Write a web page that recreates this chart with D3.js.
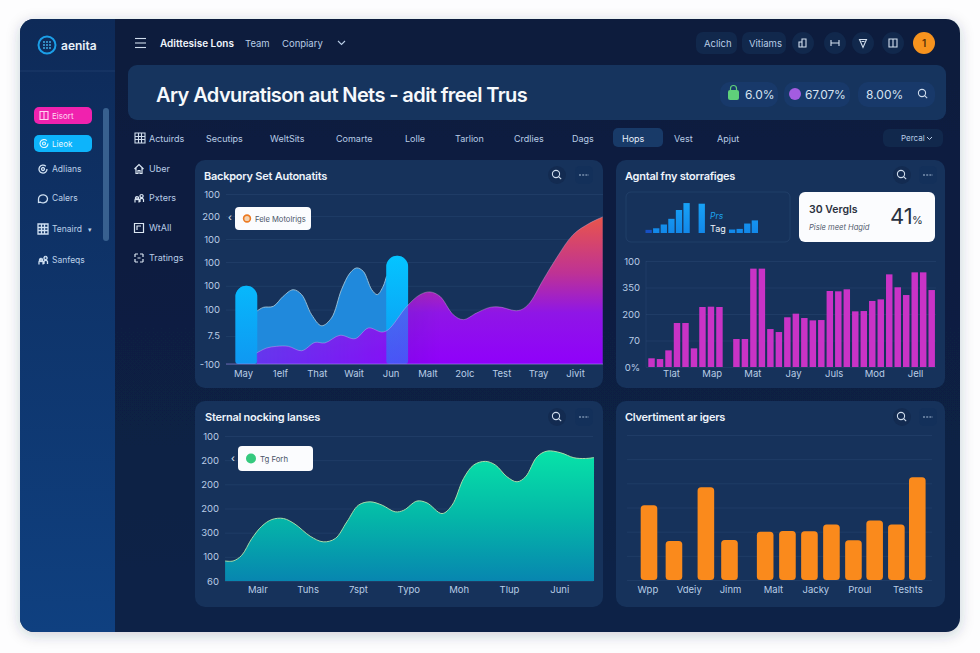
<!DOCTYPE html>
<html>
<head>
<meta charset="utf-8">
<title>Dashboard</title>
<script src="https://cdn.jsdelivr.net/npm/d3@7"></script>
<style>
  html, body { margin: 0; padding: 0; background: #fdfdfe; }
  svg { display: block; }
  text { font-family: Inter, "Noto Sans", sans-serif; }
</style>
</head>
<body>
<svg id="chart" width="980" height="653"></svg>
<script>
// chart 1: layered areas + two capsules
const areaMonthLabels = ['May', '1elf', 'That', 'Wait', 'Jun', 'Malt', '2olc', 'Test', 'Tray', 'Jivit'];
const areaTickLabels = ['-100', '7.5', '100', '100', '100', '100', '200', '100'];
const areaTickValues = [0, 16.5, 32, 46, 60, 73.5, 87, 100];
const blueMonths = [0.37, 0.55, 0.82, 1.09, 1.36, 1.59, 1.86, 2.13, 2.40, 2.67, 2.90, 3.08, 3.26, 3.49, 3.64, 3.80, 3.89, 4.0, 4.45];
const blueValues = [31, 33.3, 33.9, 39.8, 43.7, 40.8, 29, 22.5, 27.1, 43.7, 53.5, 56.5, 54.5, 43.7, 40.8, 45.7, 51.6, 55, 55];
const purpleMonths = [0.37, 0.64, 0.91, 1.23, 1.59, 1.95, 2.22, 2.63, 3.04, 3.40, 3.76, 3.94, 4.44, 4.80, 5.07, 5.34, 5.70, 5.97, 6.33, 6.69, 6.96, 7.46, 7.73, 8.14, 8.50, 8.95, 9.40, 9.75];
const purpleValues = [6.5, 9.4, 10.4, 10.4, 7.8, 12.7, 12.4, 16.9, 14.9, 21.2, 18.8, 20.2, 33.9, 40.8, 42.4, 39.8, 29, 26.1, 30, 33.3, 33.5, 31.4, 34.9, 49.6, 62.4, 76.1, 82.9, 86.5];
const capsuleMonths = [0.09, 4.18];
const capsuleValues = [46, 63.7];

// chart 2: mini bars + magenta bars
const miniValues = [10, 15, 27, 45, 73, 95, 0, 93, 0, 0, 0, 11, 13, 30, 40];
const magentaValues = [8.2, 7.5, 15.7, 41.5, 41.5, 17.6, 56.6, 56.9, 56.6, null, 26.4, 26.4, 92.8, 92.8, 35.8, 33, 46.9, 50.3, 46.2, 44, 44.3, 71.7, 71.4, 73.3, 52.5, 52.8, 62.3, 63.8, 87.4, 75.2, 67.9, 89.3, 89.3, 72.6];
const magentaTickLabels = ['0%', '70', '200', '350', '100'];
const magentaTickValues = [0, 25, 50, 75, 100];
const magentaMonthLabels = ['Tlat', 'Map', 'Mat', 'Jay', 'Juls', 'Mod', 'Jell'];

// chart 3: green area
const greenMonthLabels = ['Malr', 'Tuhs', '7spt', 'Typo', 'Moh', 'Tlup', 'Juni'];
const greenTickLabels = ['60', '100', '300', '200', '200', '200', '100'];
const greenMonths = [-0.64, -0.48, -0.31, -0.11, 0.09, 0.29, 0.52, 0.75, 1.05, 1.31, 1.55, 1.78, 2.01, 2.24, 2.48, 2.74, 2.91, 3.17, 3.37, 3.67, 3.87, 4.10, 4.30, 4.53, 4.73, 4.96, 5.16, 5.33, 5.56, 5.76, 6.03, 6.29, 6.52, 6.69];
const greenValues = [13.8, 13.8, 17.7, 29.2, 37.8, 42.4, 43.1, 39.2, 30.9, 27, 29.3, 40.8, 52.3, 54.6, 52.3, 47.7, 48.8, 55.1, 53.9, 46.5, 52.3, 70.8, 80, 82.5, 80, 71.9, 68.4, 71.9, 85.7, 89.6, 88.4, 85, 84.5, 85.1];

// chart 4: orange bars
const orangeDays = [0, 9.3, 21.2, 30, 43.3, 51.6, 59.8, 68, 76.2, 84.1, 92.2, 100];
const orangeValues = [51.5, 26.9, 63.9, 27.6, 33.3, 33.8, 33.6, 38.2, 27.4, 41.1, 38.2, 70.8];
const orangeLabels = ['Wpp', 'Vdeiy', 'Jinm', 'Malt', 'Jacky', 'Proul', 'Teshts'];
const orangeLabelDays = [-0.6, 14.8, 30.2, 46.2, 62, 78.4, 96.3];

// interface text
const topLinks = ['Team', 'Conpiary'];
const tabLabels = ['Actuirds', 'Secutips', 'WeltSits', 'Comarte', 'Lolle', 'Tarlion', 'Crdlies', 'Dags', 'Hops', 'Vest', 'Apjut'];
const subNavLabels = ['Uber', 'Pxters', 'WtAll', 'Tratings'];
const sideLabels = ['Adlians', 'Calers', 'Tenaird', 'Sanfeqs'];

const svg = d3.select('#chart');
const defs = svg.append('defs');

const cardFill = '#16325b';
const gridColor = 'rgba(130,175,225,0.085)';
const axisText = '#b9cde6';

function gradient(id, x1, y1, x2, y2, stops) {
  const g = defs.append('linearGradient').attr('id', id)
    .attr('gradientUnits', 'userSpaceOnUse')
    .attr('x1', x1).attr('y1', y1).attr('x2', x2).attr('y2', y2);
  stops.forEach(s => g.append('stop').attr('offset', s[0]).attr('stop-color', s[1]).attr('stop-opacity', s[2] === undefined ? 1 : s[2]));
}

function label(x, y, str, size, color, opts = {}) {
  return svg.append('text').attr('x', x).attr('y', y).text(str)
    .attr('font-size', size).attr('fill', color)
    .attr('font-weight', opts.weight || 400)
    .attr('font-style', opts.style || 'normal')
    .attr('letter-spacing', opts.spacing || 0)
    .attr('text-anchor', opts.anchor || 'start');
}

function box(x, y, w, h, r, fill) {
  return svg.append('rect').attr('x', x).attr('y', y).attr('width', w).attr('height', h).attr('rx', r).attr('fill', fill);
}

function searchIcon(cx, cy, color) {
  svg.append('circle').attr('cx', cx - 1).attr('cy', cy - 1).attr('r', 3.6).attr('fill', 'none').attr('stroke', color).attr('stroke-width', 1.1);
  svg.append('line').attr('x1', cx + 1.6).attr('y1', cy + 1.6).attr('x2', cx + 4.2).attr('y2', cy + 4.2).attr('stroke', color).attr('stroke-width', 1.1);
}

// rough glyphs, they are only a few pixels wide in the picture
const iconPaths = {
  doc: 'M-4-4h8v8h-8zM0-4v8',
  grid: 'M-5-5h10v10h-10zM-5-1.5h10M-5 1.5h10M-1.5-5v10M1.5-5v10',
  home: 'M-4.5 0L0-4.5L4.5 0M-3 -1V4.5H-1V1.5H1V4.5H3V-1',
  people: 'M-4 4.5V2a2 2 0 0 1 4 0V4.5M-2-1.5a1.6 1.6 0 1 0 0.1 0M1 4V1.5a2 2 0 0 1 3.5 0V4M2.5-3.5a1.6 1.6 0 1 0 0.1 0',
  frame: 'M-4.5-4.5h9v9h-9zM-2 2V-2H2',
  dash: 'M-4-4h3M1-4h3M-4 4h3M1 4h3M-4-4v3M4-4v3M-4 1v3M4 1v3M-1.5 0h3',
  pin: 'M-3.5-3.5h7L0 4.5ZM-1.5-1.5h3',
  build: 'M-4 4V-1h3V4M-1 4V-4h4V4M-4.5 4h8',
  bracket: 'M-4-3V3M4-3V3M-4 0h8',
  ring: 'M4 0a4 4 0 1 1-1.2-2.8M-1.5 0a1.5 1.5 0 1 0 3 0a1.5 1.5 0 1 0-3 0',
  chat: 'M-4.5 1a4.5 4 0 1 1 2 3.2L-4.5 4.5Z'
};

function icon(kind, cx, cy, color, width = 1.1) {
  svg.append('path').attr('transform', `translate(${cx},${cy})`).attr('d', iconPaths[kind])
    .attr('fill', 'none').attr('stroke', color).attr('stroke-width', width);
}

function cardHeader(title, titleX, titleY, searchX, dotsX, iconY) {
  label(titleX, titleY, title, 11, '#eef4fb', { weight: 600, spacing: -0.25 });
  svg.append('circle').attr('cx', searchX).attr('cy', iconY).attr('r', 9).attr('fill', '#132b51');
  searchIcon(searchX, iconY, '#cfdcec');
  box(dotsX - 9, iconY - 9, 18, 18, 5, '#13305a');
  svg.append('line').attr('x1', dotsX - 5).attr('x2', dotsX + 5).attr('y1', iconY).attr('y2', iconY)
    .attr('stroke', '#a9bdd6').attr('stroke-width', 1.2).attr('stroke-dasharray', '2 1.2');
}

function yAxis(scale, left, width, values, labels) {
  const g = svg.append('g').attr('transform', `translate(${left},0)`)
    .call(d3.axisLeft(scale).tickValues(values).tickSize(-width).tickPadding(6)
      .tickFormat((d, i) => labels[i]));
  g.select('.domain').remove();
  g.selectAll('line').attr('stroke', gridColor);
  g.selectAll('text').attr('fill', axisText).attr('font-size', 9.5).attr('font-family', 'Inter, sans-serif');
  return g;
}

function xAxis(scale, y, values, labels) {
  const axis = d3.axisBottom(scale).tickSize(0).tickPadding(0);
  if (values) axis.tickValues(values);
  if (labels) axis.tickFormat((d, i) => labels[i]);
  const g = svg.append('g').attr('transform', `translate(0,${y})`).call(axis);
  g.select('.domain').remove();
  g.selectAll('text').attr('fill', axisText).attr('font-size', 9.5).attr('font-family', 'Inter, sans-serif');
}

// shell
defs.append('filter').attr('id', 'shadow').attr('x', '-5%').attr('y', '-5%').attr('width', '110%').attr('height', '112%')
  .append('feDropShadow').attr('dx', 0).attr('dy', 3).attr('stdDeviation', 7).attr('flood-color', '#27344f').attr('flood-opacity', 0.22);
gradient('sideFill', 0, 19, 0, 632, [[0, '#0e2a58'], [1, '#0f4080']]);
gradient('mainFill', 0, 19, 0, 632, [[0, '#0c1c3d'], [1, '#0d2247']]);
box(20, 19, 940, 613, 14, 'url(#mainFill)').attr('filter', 'url(#shadow)');
svg.append('path').attr('fill', 'url(#sideFill)')
  .attr('d', 'M115 19H34a14 14 0 0 0-14 14V618a14 14 0 0 0 14 14H115Z');
svg.append('line').attr('x1', 20).attr('x2', 115).attr('y1', 71).attr('y2', 71).attr('stroke', 'rgba(130,175,225,0.12)');

// sidebar
svg.append('circle').attr('cx', 47).attr('cy', 45).attr('r', 8.5).attr('fill', 'none').attr('stroke', '#1b9fe8').attr('stroke-width', 2);
d3.range(3).forEach(i => d3.range(3).forEach(j => {
  svg.append('circle').attr('cx', 44 + i * 3).attr('cy', 42 + j * 3).attr('r', 0.9).attr('fill', '#45b8f0');
}));
label(61, 50, 'aenita', 12, '#e8f0f8', { weight: 600 });
box(34, 107, 58, 17, 5, '#f022ae');
box(34, 135, 58, 17, 5, '#0db4fb');
icon('doc', 44, 115.5, '#ffd3f0');
icon('ring', 44, 143.5, '#e4f8ff');
label(52, 119, 'Eisort', 8, '#ffd9f2');
label(52, 147, 'Lieok', 8, '#eafaff');
box(103, 108, 6, 133, 3, '#38608f');
sideLabels.forEach((d, i) => {
  const y = [169, 198, 229, 260][i];
  icon(['ring', 'chat', 'grid', 'people'][i], 43, y, '#cfe0f2', 1.3);
  label(52, y + 3, d, 8.5, '#bcd0e8');
});
label(88, 232, '▾', 7, '#bcd0e8');

// top nav
d3.range(3).forEach(i => {
  svg.append('line').attr('x1', 135).attr('x2', 146).attr('y1', 38.5 + i * 4.5).attr('y2', 38.5 + i * 4.5).attr('stroke', '#cfdcec').attr('stroke-width', 1.1);
});
label(160, 47, 'Adittesise Lons', 10, '#f0f5fb', { weight: 600 });
topLinks.forEach((d, i) => label([245, 282][i], 47, d, 9.5, '#b9cde6'));
svg.append('path').attr('d', 'M338 41l3.5 3.5l3.5-3.5').attr('fill', 'none').attr('stroke', '#b9cde6').attr('stroke-width', 1.1);
box(696, 32, 41, 22, 7, '#11284c');
box(742, 32, 44, 22, 7, '#11284c');
label(704, 47, 'Aclich', 9.5, '#b9cde6');
label(749, 47, 'Vitiams', 9.5, '#b9cde6');
[803, 835, 863, 893].forEach((x, i) => {
  svg.append('circle').attr('cx', x).attr('cy', 43).attr('r', 11).attr('fill', '#11284c');
  icon(['build', 'bracket', 'pin', 'doc'][i], x, 43, '#d3dfee');
});
svg.append('circle').attr('cx', 924).attr('cy', 43).attr('r', 11).attr('fill', '#f7931e');
label(924, 47, '1', 10, '#5a3208', { anchor: 'middle', weight: 600 });

// banner
box(128, 65, 818, 55, 9, '#16345e');
label(156, 102, 'Ary Advuratison aut Nets - adit freel Trus', 20, '#f6f9fc', { weight: 600, spacing: -0.6 });
box(720, 82, 58, 25, 10, '#18396a');
box(784, 82, 66, 25, 10, '#18396a');
box(858, 82, 77, 25, 10, '#18396a');
box(728, 90, 11, 10, 2, '#5fd07a');
svg.append('path').attr('d', 'M730.5 90v-1.5a3 3 0 0 1 6 0V90').attr('fill', 'none').attr('stroke', '#5fd07a').attr('stroke-width', 1.2);
svg.append('circle').attr('cx', 795).attr('cy', 94).attr('r', 6).attr('fill', '#a35ce0');
label(745, 99, '6.0%', 12, '#d6e2f0');
label(805, 99, '67.07%', 12, '#d6e2f0', { spacing: -0.2 });
label(866, 99, '8.00%', 12, '#d6e2f0');
searchIcon(923, 94, '#cfdcec');

// tabs
box(613, 128, 50, 19, 5, '#183a68');
box(883, 129, 60, 18, 6, '#11284c');
icon('grid', 140, 138, '#cfdcec');
tabLabels.forEach((d, i) => {
  const x = [149, 206, 270, 336, 405, 455, 514, 572, 622, 674, 717][i];
  label(x, 141.5, d, 9, i === 8 ? '#e6eef8' : '#b9cde6');
});
label(901, 141, 'Percal', 8, '#b9cde6');
svg.append('path').attr('d', 'M927 137l2.5 2.5l2.5-2.5').attr('fill', 'none').attr('stroke', '#b9cde6');

// sub nav
subNavLabels.forEach((d, i) => {
  const y = [169, 198, 228, 258][i];
  icon(['home', 'people', 'frame', 'dash'][i], 139, y, '#dbe6f2', 1.2);
  label(149, y + 3, d, 9, '#b9cde6');
});

// cards
box(195, 160, 408, 228, 10, cardFill);
box(616, 160, 329, 228, 10, cardFill);
box(195, 401, 408, 206, 10, cardFill);
box(616, 401, 329, 206, 10, cardFill);
cardHeader('Backpory Set Autonatits', 204, 180, 557, 584, 175);
cardHeader('Agntal fny storrafiges', 625, 180, 902, 928, 175);
cardHeader('Sternal nocking lanses', 205, 421, 557, 584, 417);
cardHeader('Clvertiment ar igers', 625, 421, 902, 928, 417);

// chart 1
const x1 = d3.scaleLinear().domain([0, 9]).range([243, 575]);
const y1 = d3.scaleLinear().domain([0, 100]).range([364, 194]);
yAxis(y1, 226, 377, areaTickValues, areaTickLabels);
xAxis(x1, 370, d3.range(10), areaMonthLabels);

gradient('capsuleFill', 0, 256, 0, 364, [[0, '#04c4ff'], [1, '#0f98f2']]);
gradient('purpleFill', 0, 364, 0, 218, [[0, '#9000fb'], [0.35, '#8f16e6'], [0.62, '#be3295'], [1, '#e8544c']]);
gradient('purpleFade', 257, 0, 440, 0, [[0, '#fff', 0.62], [1, '#fff', 1]]);
defs.append('mask').attr('id', 'purpleMask').attr('maskUnits', 'userSpaceOnUse')
  .attr('x', 226).attr('y', 160).attr('width', 377).attr('height', 228)
  .append('rect').attr('x', 226).attr('y', 160).attr('width', 377).attr('height', 228).attr('fill', 'url(#purpleFade)');

const area1 = d3.area().x(d => x1(d[0])).y0(y1(0)).y1(d => y1(d[1])).curve(d3.curveCatmullRom);
const line1 = d3.line().x(d => x1(d[0])).y(d => y1(d[1])).curve(d3.curveCatmullRom);
const blue = blueMonths.map((m, i) => [m, blueValues[i]]);
const purple = purpleMonths.map((m, i) => [m, purpleValues[i]]);
const capsules = capsuleMonths.map((m, i) => [m, capsuleValues[i]]);
const capsuleW = (x1(1) - x1(0)) * 0.59;

// round top, nearly square foot
function capsulePath(d) {
  const left = x1(d[0]) - capsuleW / 2;
  const r = capsuleW / 2;
  const foot = 3;
  const path = d3.path();
  path.moveTo(left, y1(d[1]) + r);
  path.arc(left + r, y1(d[1]) + r, r, Math.PI, 0);
  path.lineTo(left + capsuleW, y1(0) - foot);
  path.quadraticCurveTo(left + capsuleW, y1(0), left + capsuleW - foot, y1(0));
  path.lineTo(left + foot, y1(0));
  path.quadraticCurveTo(left, y1(0), left, y1(0) - foot);
  path.closePath();
  return path.toString();
}

function drawCapsules(opacity) {
  svg.append('g').selectAll('path').data(capsules).join('path')
    .attr('d', capsulePath)
    .attr('fill', 'url(#capsuleFill)').attr('opacity', opacity);
}

svg.append('path').datum(blue).attr('d', area1).attr('fill', '#2089dc');
svg.append('path').datum(blue.slice(0, 17)).attr('d', line1).attr('fill', 'none').attr('stroke', '#9fc4d8').attr('stroke-width', 0.9);
drawCapsules(1);
svg.append('path').datum(purple).attr('d', area1).attr('fill', 'url(#purpleFill)').attr('mask', 'url(#purpleMask)');
drawCapsules(0.5);
svg.append('path').datum(purple).attr('d', line1).attr('fill', 'none').attr('stroke', 'rgba(235,190,235,0.4)').attr('stroke-width', 0.9);
svg.append('line').attr('x1', 226).attr('x2', 603).attr('y1', y1(0)).attr('y2', y1(0)).attr('stroke', 'rgba(170,140,240,0.55)');

box(235, 207, 76, 23, 4, '#fbfcfe');
svg.append('circle').attr('cx', 247).attr('cy', 218.5).attr('r', 3.4).attr('fill', '#f3d2b0').attr('stroke', '#ec7a22').attr('stroke-width', 1.6);
label(255, 221.5, 'Fele Motolrigs', 7.6, '#4a5568');
label(228, 221, '‹', 10, '#e8eef6');

// chart 2
box(626, 192, 164, 50, 5, 'none').attr('stroke', 'rgba(130,175,225,0.1)');
const miniX = d3.scaleBand().domain(d3.range(miniValues.length)).range([645.5, 758]).paddingInner(0.17);
const miniY = d3.scaleLinear().domain([0, 100]).range([233, 201.5]);
gradient('miniFill', 0, 201, 0, 233, [[0, '#18a4f7'], [1, '#1288ea']]);
svg.append('g').selectAll('rect').data(miniValues).join('rect')
  .attr('x', (d, i) => miniX(i)).attr('width', miniX.bandwidth())
  .attr('y', d => miniY(d)).attr('height', d => miniY(0) - miniY(d))
  .attr('fill', (d, i) => i === 0 ? '#1750c4' : 'url(#miniFill)');
label(710, 219, 'Prs', 8.5, '#1da4ee', { style: 'italic' });
label(710, 232, 'Tag', 9, '#f0f5fb');

box(799, 192, 136, 50, 6, '#fbfcfe');
label(809, 213, '30 Vergls', 10.5, '#2a3140', { weight: 600 });
label(809, 230, 'Pisle meet Hagid', 7.6, '#555e70', { style: 'italic' });
label(890, 224, '41', 22, '#2a3140');
label(912, 224, '%', 11, '#2a3140');

const x2 = d3.scaleBand().domain(d3.range(magentaValues.length)).range([648.3, 648.3 + 8.43 * 34]).paddingInner(0.24);
const y2 = d3.scaleLinear().domain([0, 100]).range([367, 261]);
yAxis(y2, 646, 290, magentaTickValues, magentaTickLabels);
svg.append('line').attr('x1', 646).attr('x2', 646).attr('y1', 261).attr('y2', 367).attr('stroke', gridColor);
svg.append('g').selectAll('rect').data(magentaValues).join('rect')
  .attr('x', (d, i) => x2(i)).attr('width', x2.bandwidth())
  .attr('y', d => y2(d || 0)).attr('height', d => y2(0) - y2(d || 0))
  .attr('fill', '#c933c6');
const x2Labels = d3.scalePoint().domain(magentaMonthLabels).range([671, 915]);
xAxis(x2Labels, 370, null, null);

// chart 3
const x3 = d3.scaleLinear().domain([0, 6]).range([257.3, 559.3]);
const y3 = d3.scaleLinear().domain([0, 100]).range([581, 436]);
yAxis(y3, 225, 368, d3.range(0, 100.01, 100 / 6), greenTickLabels);
xAxis(x3, 586, d3.range(7), greenMonthLabels);
gradient('greenFill', 0, 451, 0, 581, [[0, '#07e3a8'], [0.5, '#04b8a8'], [1, '#0786b0']]);
const green = greenMonths.map((m, i) => [m, greenValues[i]]);
svg.append('path').datum(green)
  .attr('d', d3.area().x(d => x3(d[0])).y0(y3(0)).y1(d => y3(d[1])).curve(d3.curveCatmullRom))
  .attr('fill', 'url(#greenFill)');
svg.append('path').datum(green)
  .attr('d', d3.line().x(d => x3(d[0])).y(d => y3(d[1])).curve(d3.curveCatmullRom))
  .attr('fill', 'none').attr('stroke', '#a6dca8').attr('stroke-width', 1);
box(238, 446, 75, 25, 4, '#fbfcfe');
svg.append('circle').attr('cx', 251).attr('cy', 458.5).attr('r', 5).attr('fill', '#35c97e');
label(260, 461.5, 'Tg Forh', 7.8, '#4a5568');
label(231, 462, '‹', 10, '#e8eef6');

// chart 4
const x4 = d3.scaleLinear().domain([0, 100]).range([649, 917.3]);
const y4 = d3.scaleLinear().domain([0, 100]).range([580, 435]);
const grid4 = svg.append('g').attr('transform', 'translate(627,0)')
  .call(d3.axisLeft(y4).tickValues(d3.range(0, 100.01, 100 / 6)).tickSize(-305).tickFormat(''));
grid4.select('.domain').remove();
grid4.selectAll('line').attr('stroke', gridColor);
svg.append('g').selectAll('rect').data(orangeValues).join('rect')
  .attr('x', (d, i) => x4(orangeDays[i]) - 8.3).attr('width', 16.6)
  .attr('y', d => y4(d)).attr('height', d => y4(0) - y4(d))
  .attr('rx', 3.5).attr('fill', '#fa8a1c');
xAxis(x4, 586, orangeLabelDays, orangeLabels);
</script>
</body>
</html>
